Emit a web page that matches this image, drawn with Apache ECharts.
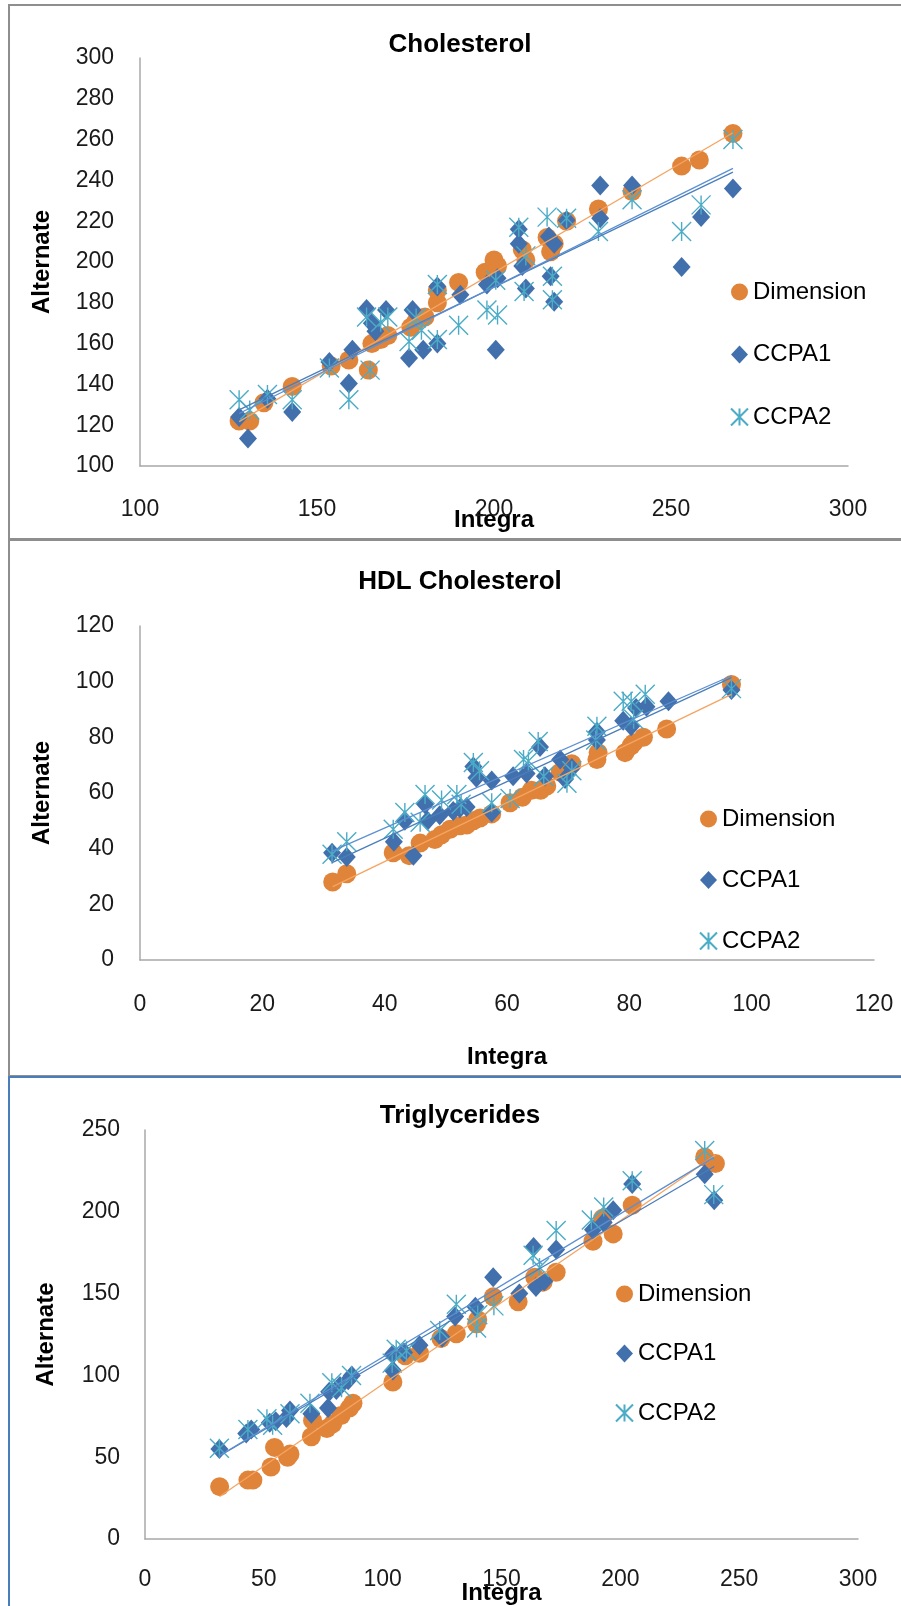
<!DOCTYPE html>
<html>
<head>
<meta charset="utf-8">
<title>Cholesterol, HDL Cholesterol, Triglycerides</title>
<script src="https://cdn.jsdelivr.net/npm/echarts@6/dist/echarts.min.js"></script>
<style>
  html, body { margin: 0; padding: 0; background: #fff; }
  body { position: relative; width: 901px; height: 1606px; overflow: hidden; }
  .frame { position: absolute; box-sizing: border-box; }
  .chart { position: absolute; left: 0; width: 901px; }
</style>
</head>
<body>
<div class="frame" style="left:8px;top:4px;width:900px;height:536px;border:2px solid #8e8e8e;"></div>
<div class="frame" style="left:8px;top:539px;width:900px;height:538px;border:2px solid #8e8e8e;"></div>
<div class="frame" style="left:8px;top:1076px;width:900px;height:540px;border:2px solid #4a7ebb;"></div>
<div id="chol" class="chart" style="top:0;height:540px"></div>
<div id="hdl" class="chart" style="top:540px;height:536px"></div>
<div id="trig" class="chart" style="top:1076px;height:530px"></div>
<script>
// 数据：每个点 [Integra, Alternate]
const seriesNames = ['Dimension', 'CCPA1', 'CCPA2'];

const cholXTicks = [100, 150, 200, 250, 300];
const cholYTicks = [100, 120, 140, 160, 180, 200, 220, 240, 260, 280, 300];
const cholDimension = [[128,122],[131,122],[135,131],[143,139],[154,149],[159,152],[164.5,147],[165.5,160],[168,162],[170,164],[176.5,168],[178,171],[180.5,173],[184,180],[184,186],[190,190],[197.5,195],[200,201],[201,198],[208,206],[209,201],[215,212],[216,205],[217,209],[220.5,220],[229.5,226],[239,234.5],[253,247],[258,250],[267.5,263]];
const cholCcpa1 = [[128,124],[130.5,113.5],[136,133],[143,126.5],[153.5,151],[159,140.5],[160,157],[164,177],[165.5,170],[166.5,166],[169.5,176.5],[176,153],[177,176.5],[180,157],[184,160],[184,188],[190.5,184],[198,189],[200.5,157],[201,192],[207,216],[207,209],[208,198],[209,187],[215.5,212.5],[217,209],[216,193],[217,180.5],[220.5,220.5],[230,237.5],[230,221.5],[239,237.5],[253,197.5],[258.5,222],[267.5,236]];
const cholCcpa2 = [[128,132.5],[131,127.5],[136,135],[143,132.5],[153.5,148],[159,132.5],[164,173],[165,147],[168,170.5],[170,173],[176,161],[178,172.5],[179.5,166.5],[184,189],[184,162],[190,169],[198,176.5],[201,174],[200.5,191],[207,217],[208.5,185.5],[209,203],[215,222],[216.5,193],[216.5,181.5],[220.5,221.5],[229.5,215],[239,230.5],[253,215],[258.5,228],[267.5,260]];

const hdlXTicks = [0, 20, 40, 60, 80, 100, 120];
const hdlYTicks = [0, 20, 40, 60, 80, 100, 120];
const hdlDimension = [[31.5,28],[33.8,31],[41.4,38.5],[44,37.5],[45.8,42],[48.2,43.3],[49.3,45],[50.7,47],[52.3,48.2],[53.4,48.5],[54.5,50],[55.6,51],[57.5,52.5],[60.5,56.5],[62.5,58.5],[64,61],[65.5,61],[66.5,62.5],[68.7,67.5],[70.6,70.5],[74.7,72],[74.9,74.5],[79.3,74.5],[80.3,77],[80.7,78],[82.3,80],[86.1,83],[96.7,99]];
const hdlCcpa1 = [[31.4,38.5],[33.8,37],[41.5,42.5],[43.3,50],[44.7,37.5],[46.6,56],[47,50],[49,52],[51.2,53.5],[52.3,54.5],[53.4,55],[54.5,69.5],[55,65.5],[57.5,64.5],[57.5,53],[61,66],[63.2,67],[65.4,76.5],[66.2,66],[68.7,72],[69.5,65],[70.6,69],[74.7,82],[74.7,79],[79,86],[80.3,84],[81.1,90.5],[82.8,91],[86.4,93],[96.7,97]];
const hdlCcpa2 = [[31.4,38],[33.8,42.5],[41.4,47],[43.3,53],[45.8,49.5],[46.6,59.5],[49.3,57.5],[51.8,59.5],[52.5,56],[54.5,71],[55.5,68],[57.5,56.5],[60.5,58],[62.7,72],[63.5,71.5],[65.1,78.5],[66,66],[69.8,63.5],[70.6,68],[74.7,84],[74.5,79],[79,93],[80.3,93],[80.7,86.5],[82.6,95.5],[96.7,97.5]];

const trigXTicks = [0, 50, 100, 150, 200, 250, 300];
const trigYTicks = [0, 50, 100, 150, 200, 250];
const trigDimension = [[31.4,32],[43.3,36],[45.4,36],[53,44],[54.5,56],[60,50],[61,52],[70,62.5],[70.5,72.5],[76.5,67.5],[79,70.5],[82.5,75.5],[86,80],[87.5,83],[104.3,96],[109.5,112],[115.5,113.5],[124.5,122.5],[131,125.5],[139.5,131.5],[140,134],[146.5,148],[157,145],[164,160],[167.5,157],[173,163],[188.5,182],[192.5,196],[197,186.5],[205,204],[235.5,233.5],[240,229.5]];
const trigCcpa1 = [[31.3,55],[42.6,64.5],[44.7,67],[52.5,71],[55,72],[59.5,74],[61,78.5],[70,76.5],[77,80],[77.5,90],[80.5,91],[82,93.5],[85.5,97],[87,100],[104.3,103],[104.3,113],[109,114],[115.5,118.5],[125,123],[130.5,136],[139,142],[146.5,160],[157.5,150],[163.5,178.5],[164.5,154],[168,157.5],[173,177],[188.5,189],[193,193.5],[197,201],[205,217],[235.5,223],[239.5,207]];
const trigCcpa2 = [[31.3,55.5],[43.3,67],[51.3,73.5],[53.7,69.5],[61,76.5],[69.4,83],[78.6,95.5],[82.7,92.5],[86.9,100],[104,107.5],[105.7,116],[110,115],[124,127.5],[131,143.5],[139.5,129],[140,137],[146.8,142.5],[163.3,173.5],[166,166],[173,188.5],[187.8,195],[193,203],[205,219],[235.5,237.5],[239.3,210.5]];

const FONT = "'Liberation Sans', Arial, sans-serif";
const DOT_COLOR = '#e0843a';
const DIAMOND_COLOR = '#4170ad';
const STAR_COLOR = '#4bacc6';
const TREND_COLORS = ['#f5a462', '#4a7ebb', '#5b8fd2'];
const STAR_PATH = 'path://M0,0L10,10M10,0L0,10M5,0L5,10';

// 最小二乘趋势线，两端取数据的最小、最大 x
function trendLine (points) {
  let n = points.length, sx = 0, sy = 0, sxx = 0, sxy = 0;
  points.forEach(function (p) { sx += p[0]; sy += p[1]; sxx += p[0] * p[0]; sxy += p[0] * p[1]; });
  let b = (n * sxy - sx * sy) / (n * sxx - sx * sx);
  let a = (sy - b * sx) / n;
  let xs = points.map(function (p) { return p[0]; });
  let x0 = Math.min.apply(null, xs), x1 = Math.max.apply(null, xs);
  return [[x0, a + b * x0], [x1, a + b * x1]];
}

function valueAxis (ticks, extra) {
  return Object.assign({
    type: 'value',
    min: ticks[0],
    max: ticks[ticks.length - 1],
    interval: ticks[1] - ticks[0],
    axisLine: { show: true, onZero: false, lineStyle: { color: '#a8a8a8', width: 1.5 } },
    axisTick: { show: false },
    splitLine: { show: false },
    nameLocation: 'middle',
    nameMoveOverlap: false,
    nameTextStyle: { fontFamily: FONT, fontSize: 24, fontWeight: 'bold', color: '#000' }
  }, extra);
}

// dom: 渲染元素; params: 标题、坐标、数据、图例位置
function createScatter (dom, params) {
  let myChart = echarts.init(dom, null, { renderer: 'canvas' });
  let marks = [
    { symbol: 'circle', symbolSize: 19, itemStyle: { color: DOT_COLOR, opacity: 1 } },
    { symbol: 'diamond', symbolSize: [18, 20], itemStyle: { color: DIAMOND_COLOR, opacity: 1 } },
    { symbol: STAR_PATH, symbolSize: 19, itemStyle: { color: 'rgba(0,0,0,0)', borderColor: STAR_COLOR, borderWidth: 1.4, opacity: 1 } }
  ];
  let series = [];
  params.data.forEach(function (points, i) {
    series.push(Object.assign({ name: seriesNames[i], type: 'scatter', data: points, z: 2 }, marks[i]));
  });
  params.data.forEach(function (points, i) {
    series.push({
      name: seriesNames[i] + ' trend',
      type: 'line',
      data: trendLine(points),
      symbol: 'none',
      z: 3,
      lineStyle: { color: TREND_COLORS[i], width: 1.3 }
    });
  });
  let option = {
    animation: false,
    backgroundColor: 'transparent',
    graphic: [{
      type: 'text',
      x: params.title.x,
      y: params.title.y,
      style: {
        text: params.title.text,
        align: 'center',
        verticalAlign: 'middle',
        font: 'bold 26px ' + FONT,
        fill: '#000'
      }
    }],
    grid: Object.assign({ outerBoundsMode: 'none', containLabel: false }, params.grid),
    xAxis: valueAxis(params.xTicks, {
      name: 'Integra',
      nameGap: params.nameGap[0],
      axisLabel: { margin: params.labelMargin[0], fontFamily: FONT, fontSize: 23, color: '#1a1a1a' }
    }),
    yAxis: valueAxis(params.yTicks, {
      name: 'Alternate',
      nameGap: params.nameGap[1],
      axisLabel: { margin: params.labelMargin[1], fontFamily: FONT, fontSize: 23, color: '#1a1a1a' }
    }),
    legend: {
      data: seriesNames,
      orient: 'vertical',
      padding: 0,
      left: params.legend.left,
      top: params.legend.top,
      itemGap: params.legend.gap,
      itemWidth: 17,
      itemHeight: 18,
      textStyle: { fontFamily: FONT, fontSize: 24, color: '#000', lineHeight: 26 }
    },
    series: series
  };
  myChart.setOption(option);
  return myChart;
}

createScatter(document.getElementById('chol'), {
  title: { text: 'Cholesterol', x: 460, y: 45 },
  grid: { left: 140, top: 58, width: 708, height: 408 },
  xTicks: cholXTicks,
  yTicks: cholYTicks,
  data: [cholDimension, cholCcpa1, cholCcpa2],
  labelMargin: [32, 26],
  nameGap: [42, 86],
  legend: { left: 730, top: 279, gap: 36.5 }
});

createScatter(document.getElementById('hdl'), {
  title: { text: 'HDL Cholesterol', x: 460, y: 42 },
  grid: { left: 140, top: 86, width: 734, height: 334 },
  xTicks: hdlXTicks,
  yTicks: hdlYTicks,
  data: [hdlDimension, hdlCcpa1, hdlCcpa2],
  labelMargin: [33, 26],
  nameGap: [85, 86],
  legend: { left: 699, top: 266, gap: 35 }
});

createScatter(document.getElementById('trig'), {
  title: { text: 'Triglycerides', x: 460, y: 40 },
  grid: { left: 145, top: 54, width: 713, height: 409 },
  xTicks: trigXTicks,
  yTicks: trigYTicks,
  data: [trigDimension, trigCcpa1, trigCcpa2],
  labelMargin: [29, 25],
  nameGap: [42, 87],
  legend: { left: 615, top: 205, gap: 33.5 }
});
</script>
</body>
</html>
